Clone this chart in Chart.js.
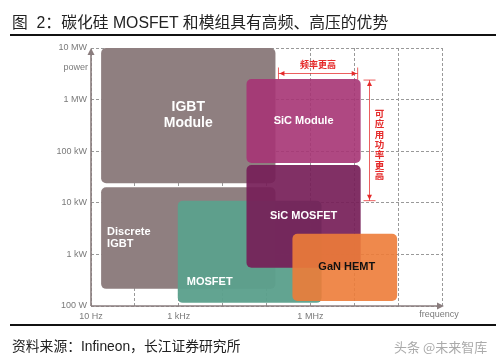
<!DOCTYPE html>
<html><head><meta charset="utf-8">
<script src="https://cdn.jsdelivr.net/npm/chart.js@4.4.1/dist/chart.umd.min.js"></script>
<style>
html,body{margin:0;padding:0;background:#fff;width:496px;height:362px;overflow:hidden;}
#wrap{position:relative;width:496px;height:362px;}
#title{position:absolute;left:12px;top:14px;font-size:15.8px;line-height:18px;font-family:"Liberation Sans","Noto Sans CJK SC",sans-serif;color:#222;white-space:nowrap;}
#rule1{position:absolute;left:10px;right:0;top:34px;height:2px;background:#111;}
#rule2{position:absolute;left:10px;right:0;top:324px;height:2px;background:#111;}
#source{position:absolute;left:12px;top:339px;font-size:13.8px;line-height:16px;font-family:"Liberation Sans","Noto Sans CJK SC",sans-serif;color:#222;white-space:nowrap;}
#wm{position:absolute;left:394px;top:339px;font-size:13px;line-height:16px;font-family:"Noto Sans CJK SC",sans-serif;color:#aaa;white-space:nowrap;}
canvas{position:absolute;left:0;top:0;}
</style>
</head><body>
<div id="wrap">
<canvas id="c" width="496" height="362"></canvas>
<div id="title">图&nbsp;&nbsp;2：碳化硅 MOSFET 和模组具有高频、高压的优势</div>
<div id="rule1"></div>
<div id="rule2"></div>
<div id="source">资料来源：Infineon，长江证券研究所</div>
<div id="wm">头条 @未来智库</div>
</div>
<script>
// ---- data ----
const freqTickValues = [1e1, 1e2, 1e3, 1e4, 1e5, 1e6, 1e7, 1e8, 1e9];
const freqTickLabels = ['10 Hz', '', '1 kHz', '', '', '1 MHz', '', '', ''];
const powerTickValues = [1e2, 1e3, 1e4, 1e5, 1e6, 1e7];
const powerTickLabels = ['100 W', '1 kW', '10 kW', '100 kW', '1 MW', '10 MW'];

const devices  = ['IGBT Module', 'Discrete IGBT', 'MOSFET', 'SiC Module', 'SiC MOSFET', 'GaN HEMT'];
const freqMin  = [17,    17,    950,   35e3,  35e3,  390e3];   // Hz
const freqMax  = [160e3, 160e3, 1.8e6, 14e6,  14e6,  95e6];    // Hz
const powerMin = [24e3,  215,   115,   59e3,  550,   125];     // W
const powerMax = [1e7,   20e3,  11e3,  2.5e6, 54e3,  2.5e3];   // W

const freqNote  = '频率更高';
const powerNote = '可应用功率更高';
const xTitle = 'frequency';
const yTitle = 'power';

// ---- styles ----
const boxStyles = [
  {fill:'#8f7f80', text:'#ffffff', size:14, align:'center', wrap:true, lh:16},
  {fill:'#8f7f80', text:'#ffffff', size:11, align:'left',   wrap:true, lh:12, dx:6},
  {fill:'rgba(92,160,140,0.96)', text:'#ffffff', size:11, align:'left', wrap:false, dx:9, bottom:21},
  {fill:'rgba(166,52,116,0.90)', text:'#ffffff', size:11, align:'center', wrap:false},
  {fill:'rgba(118,30,88,0.92)',  text:'#ffffff', size:11, align:'center', wrap:false},
  {fill:'rgba(237,124,56,0.90)', text:'#111111', size:11, align:'center', wrap:false, dx:2}
];
const FONT = '"Liberation Sans", Arial, sans-serif';
const axisColor = '#8a7d7e';
const red = '#e52a2a';

const datasets = devices.map((d, i) => ({
  label: d,
  data: [{x: freqMin[i], y: powerMin[i]}, {x: freqMax[i], y: powerMax[i]}],
  pointRadius: 0, showLine: false
}));

function arrowHead(ctx, x, y, dir, len, hw) {
  ctx.beginPath();
  if (dir === 'left')  { ctx.moveTo(x, y); ctx.lineTo(x+len, y-hw); ctx.lineTo(x+len, y+hw); }
  if (dir === 'right') { ctx.moveTo(x, y); ctx.lineTo(x-len, y-hw); ctx.lineTo(x-len, y+hw); }
  if (dir === 'up')    { ctx.moveTo(x, y); ctx.lineTo(x-hw, y+len); ctx.lineTo(x+hw, y+len); }
  if (dir === 'down')  { ctx.moveTo(x, y); ctx.lineTo(x-hw, y-len); ctx.lineTo(x+hw, y-len); }
  ctx.closePath(); ctx.fill();
}

const boxPlugin = {
  id: 'boxes',
  beforeDatasetsDraw(chart) {
    const ctx = chart.ctx, sx = chart.scales.x, sy = chart.scales.y;
    ctx.save();
    chart.data.datasets.forEach((ds, i) => {
      const x1 = sx.getPixelForValue(ds.data[0].x), x2 = sx.getPixelForValue(ds.data[1].x);
      const y1 = sy.getPixelForValue(ds.data[1].y), y2 = sy.getPixelForValue(ds.data[0].y);
      ctx.fillStyle = boxStyles[i].fill;
      ctx.beginPath();
      ctx.roundRect(x1, y1, x2 - x1, y2 - y1, 5);
      ctx.fill();
    });
    ctx.restore();
  },
  afterDatasetsDraw(chart) {
    const ctx = chart.ctx, sx = chart.scales.x, sy = chart.scales.y, ca = chart.chartArea;
    ctx.save();
    // box labels
    chart.data.datasets.forEach((ds, i) => {
      const st = boxStyles[i];
      const x1 = sx.getPixelForValue(ds.data[0].x), x2 = sx.getPixelForValue(ds.data[1].x);
      const y1 = sy.getPixelForValue(ds.data[1].y), y2 = sy.getPixelForValue(ds.data[0].y);
      ctx.font = 'bold ' + st.size + 'px ' + FONT;
      ctx.fillStyle = st.text;
      ctx.textBaseline = 'middle';
      const lines = st.wrap ? ds.label.split(' ') : [ds.label];
      let cx, cy;
      if (st.align === 'center') { ctx.textAlign = 'center'; cx = (x1 + x2) / 2 + (st.dx || 0); }
      else { ctx.textAlign = 'left'; cx = x1 + st.dx; }
      cy = st.bottom ? y2 - st.bottom : (y1 + y2) / 2;
      const lh = st.lh || 12;
      lines.forEach((t, k) => ctx.fillText(t, cx, cy + (k - (lines.length - 1) / 2) * lh));
    });

    // axes with arrows
    ctx.strokeStyle = axisColor; ctx.fillStyle = axisColor; ctx.lineWidth = 1.6;
    ctx.beginPath(); ctx.moveTo(ca.left, ca.bottom); ctx.lineTo(ca.right - 4, ca.bottom); ctx.stroke();
    arrowHead(ctx, ca.right + 2, ca.bottom, 'right', 7, 3.5);
    ctx.beginPath(); ctx.moveTo(ca.left, ca.bottom); ctx.lineTo(ca.left, ca.top + 4); ctx.stroke();
    arrowHead(ctx, ca.left, ca.top, 'up', 7, 3.5);

    // axis titles
    ctx.font = '9px ' + FONT; ctx.fillStyle = '#7a7a7a'; ctx.textBaseline = 'middle';
    ctx.textAlign = 'right'; ctx.fillText(yTitle, ca.left - 3, ca.top + 20);
    ctx.textAlign = 'center'; ctx.fillText(xTitle, ca.right - 3, ca.bottom + 9);

    // red annotations
    const igbtR = sx.getPixelForValue(freqMax[0]);
    const sicR  = sx.getPixelForValue(freqMax[3]);
    const sicT  = sy.getPixelForValue(powerMax[3]);
    const mosT  = sy.getPixelForValue(powerMax[2]);
    ctx.strokeStyle = 'rgba(229,42,42,0.75)'; ctx.fillStyle = red; ctx.lineWidth = 1;
    // horizontal
    const hy = Math.round(sicT - 6) + 0.5, hx1 = igbtR + 3, hx2 = sicR - 3;
    ctx.beginPath(); ctx.moveTo(hx1, hy); ctx.lineTo(hx2, hy);
    ctx.moveTo(hx1, hy - 6); ctx.lineTo(hx1, hy + 6);
    ctx.moveTo(hx2, hy - 6); ctx.lineTo(hx2, hy + 6); ctx.stroke();
    arrowHead(ctx, hx1 + 1, hy, 'left', 5, 2.5);
    arrowHead(ctx, hx2 - 1, hy, 'right', 5, 2.5);
    ctx.font = 'bold 9px "Noto Sans CJK SC", sans-serif';
    ctx.textAlign = 'center'; ctx.textBaseline = 'middle';
    ctx.fillText(freqNote, (hx1 + hx2) / 2, hy - 9);
    // vertical
    const vx = Math.round(sicR + 8) + 0.5, vy1 = sicT + 1, vy2 = mosT;
    ctx.beginPath(); ctx.moveTo(vx, vy1); ctx.lineTo(vx, vy2);
    ctx.moveTo(vx - 6, vy1); ctx.lineTo(vx + 6, vy1);
    ctx.moveTo(vx - 6, vy2); ctx.lineTo(vx + 6, vy2); ctx.stroke();
    arrowHead(ctx, vx, vy1 + 1, 'up', 5, 2.5);
    arrowHead(ctx, vx, vy2 - 1, 'down', 5, 2.5);
    ctx.font = 'bold 9.5px "Noto Sans CJK SC", sans-serif';
    const chars = Array.from(powerNote), pitch = 10.3;
    const mid = (vy1 + vy2) / 2 + 4;
    chars.forEach((c, k) => ctx.fillText(c, vx + 10, mid + (k - (chars.length - 1) / 2) * pitch));
    ctx.restore();
  }
};

new Chart(document.getElementById('c'), {
  type: 'scatter',
  data: {datasets},
  options: {
    responsive: false, animation: false, devicePixelRatio: 1,
    layout: {padding: {left: 0, top: 48, right: 54, bottom: 0}},
    plugins: {legend: {display: false}, tooltip: {enabled: false}},
    scales: {
      x: {
        type: 'logarithmic', min: 1e1, max: 1e9,
        afterBuildTicks: s => { s.ticks = freqTickValues.map(v => ({value: v})); },
        afterFit: s => { s.height = 56; },
        grid: {color: '#999999', lineWidth: 1, drawTicks: false},
        border: {display: false, dash: [3, 2]},
        ticks: {autoSkip: false, maxRotation: 0, padding: 5, color: '#7a7a7a',
                font: {size: 9, family: FONT}, callback: (v, i) => freqTickLabels[i]}
      },
      y: {
        type: 'logarithmic', min: 1e2, max: 1e7,
        afterBuildTicks: s => { s.ticks = powerTickValues.map(v => ({value: v})); },
        afterFit: s => { s.width = 91; },
        grid: {color: '#999999', lineWidth: 1, drawTicks: false},
        border: {display: false, dash: [3, 2]},
        ticks: {autoSkip: false, padding: 4, color: '#7a7a7a',
                font: {size: 9, family: FONT}, callback: (v, i) => powerTickLabels[i]}
      }
    }
  },
  plugins: [boxPlugin]
});
</script>
</body></html>
